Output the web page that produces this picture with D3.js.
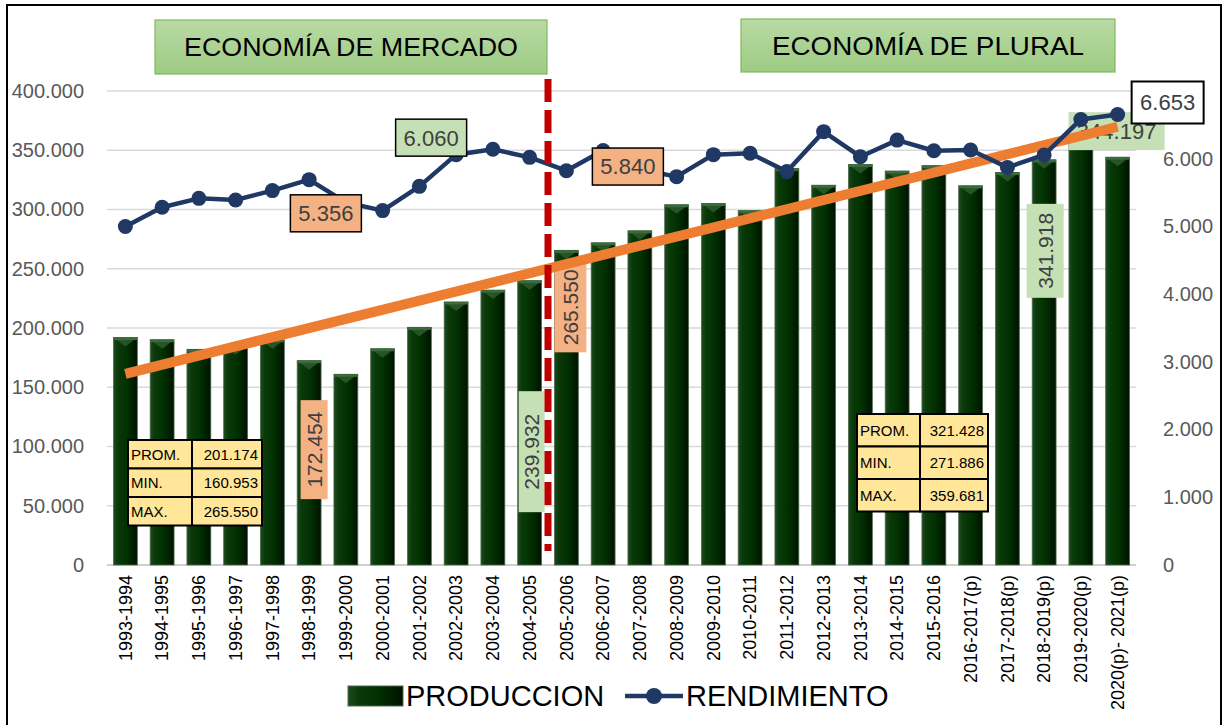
<!DOCTYPE html>
<html>
<head>
<meta charset="utf-8">
<script src="https://cdn.jsdelivr.net/npm/d3@7/dist/d3.min.js"></script>
<style>
  body { margin: 0; background: #fff; }
  svg { display: block; }
</style>
</head>
<body>
<div id="chart"></div>
<script>
// Chart data
const categories = [
    '1993-1994', '1994-1995', '1995-1996', '1996-1997', '1997-1998', '1998-1999', '1999-2000',
    '2000-2001', '2001-2002', '2002-2003', '2003-2004', '2004-2005', '2005-2006', '2006-2007',
    '2007-2008', '2008-2009', '2009-2010', '2010-2011', '2011-2012', '2012-2013', '2013-2014',
    '2014-2015', '2015-2016', '2016-2017(p)', '2017-2018(p)', '2018-2019(p)', '2019-2020(p)',
    '2020(p)- 2021(p)'
];

// PRODUCCION (left axis)
const produccion = [
    192000, 190100, 182000, 185000, 190000, 172454, 160953, 182500, 200600, 222000, 232000,
    239932, 265550, 271886, 282000, 304000, 305000, 299000, 334500, 320500, 338000, 332500,
    337000, 320000, 331200, 341918, 359681, 344197
];

// RENDIMIENTO (right axis)
const rendimiento = [
    5000, 5283, 5415, 5391, 5529, 5691, 5356, 5234, 5592, 6060, 6140, 6020, 5823, 6120,
    5840, 5735, 6060, 6080, 5810, 6400, 6030, 6275, 6118, 6128, 5872, 6055, 6580, 6653
];

const leftTicks = [0, 50000, 100000, 150000, 200000, 250000, 300000, 350000, 400000];
const rightTicks = [0, 1000, 2000, 3000, 4000, 5000, 6000];

const statsMercado = [['PROM.', 201174], ['MIN.', 160953], ['MAX.', 265550]];
const statsPlural = [['PROM.', 321428], ['MIN.', 271886], ['MAX.', 359681]];

const periodTitles = ['ECONOMÍA DE MERCADO', 'ECONOMÍA DE PLURAL'];

// Label call-outs (index into the series + placement relative to the point)
const rendLabels = [
    { i: 6, fill: '#F4B183', dx: -20, dy: 11 },
    { i: 9, fill: '#C5E0B4', dx: -25, dy: -17 },
    { i: 14, fill: '#F4B183', dx: -12, dy: -3 },
    { i: 27, fill: '#FFFFFF', dx: 50, dy: -12, w: 72, h: 42, sw: 2 }
];
const prodLabelsVertical = [
    { i: 5, fill: '#F4B183', dx: 5, dy: 89, w: 27, h: 99 },
    { i: 11, fill: '#C5E0B4', dx: 2, dy: 171, w: 26, h: 121 },
    { i: 12, fill: '#F4B183', dx: 4, dy: 57, w: 32, h: 90 },
    { i: 25, fill: '#C5E0B4', dx: 1, dy: 91, w: 37, h: 94 }
];

const locale = d3.formatLocale({ decimal: ',', thousands: '.', grouping: [3], currency: ['', ''] });
const fmt = locale.format(',.0f');

const W = 1225, H = 725;
const plot = { left: 107, right: 1136, top: 91, bottom: 565 };
const sans = '"Liberation Sans", Arial, sans-serif';

const svg = d3.select('#chart').append('svg')
    .attr('width', W)
    .attr('height', H);

const defs = svg.append('defs');

const barGrad = defs.append('linearGradient').attr('id', 'barGrad')
    .attr('x1', '0%').attr('x2', '100%').attr('y1', '0%').attr('y2', '0%');
barGrad.append('stop').attr('offset', '0%').attr('stop-color', '#1e4a1e');
barGrad.append('stop').attr('offset', '18%').attr('stop-color', '#0a3a0a');
barGrad.append('stop').attr('offset', '55%').attr('stop-color', '#013001');
barGrad.append('stop').attr('offset', '100%').attr('stop-color', '#001300');

const titleGrad = defs.append('linearGradient').attr('id', 'titleGrad')
    .attr('x1', '0%').attr('x2', '0%').attr('y1', '0%').attr('y2', '100%');
titleGrad.append('stop').attr('offset', '0%').attr('stop-color', '#B9DAA5');
titleGrad.append('stop').attr('offset', '100%').attr('stop-color', '#9DCB83');

// Outer border
svg.append('rect')
    .attr('x', 7).attr('y', 5)
    .attr('width', 1214).attr('height', 740)
    .attr('fill', 'none')
    .attr('stroke', '#000')
    .attr('stroke-width', 2);

// Scales
const x = d3.scaleBand()
    .domain(categories)
    .range([plot.left, plot.right])
    .paddingInner(0.35)
    .paddingOuter(0.175);

const yL = d3.scaleLinear().domain([0, 400000]).range([plot.bottom, plot.top]);
const yR = d3.scaleLinear().domain([0, 7000]).range([plot.bottom, plot.top]);
const cx = d => x(d) + x.bandwidth() / 2;

// Gridlines
svg.append('g')
    .selectAll('line')
    .data(leftTicks)
    .enter()
    .append('line')
    .attr('x1', plot.left).attr('x2', plot.right)
    .attr('y1', d => yL(d)).attr('y2', d => yL(d))
    .attr('stroke', d => d === 0 ? '#BFBFBF' : '#D9D9D9')
    .attr('stroke-width', 1.5);

// Left axis
const axisL = svg.append('g')
    .attr('transform', `translate(${plot.left - 20},0)`)
    .call(d3.axisLeft(yL).tickValues(leftTicks).tickSize(0).tickFormat(fmt));
axisL.select('.domain').remove();
axisL.selectAll('text')
    .attr('fill', '#595959')
    .style('font-family', sans)
    .style('font-size', '20px');

// Right axis
const axisR = svg.append('g')
    .attr('transform', `translate(${plot.right + 24},0)`)
    .call(d3.axisRight(yR).tickValues(rightTicks).tickSize(0).tickFormat(fmt));
axisR.select('.domain').remove();
axisR.selectAll('text')
    .attr('fill', '#595959')
    .style('font-family', sans)
    .style('font-size', '20px');

// X axis labels
const axisX = svg.append('g')
    .attr('transform', `translate(0,${plot.bottom + 10})`)
    .call(d3.axisBottom(x).tickSize(0));
axisX.select('.domain').remove();
axisX.selectAll('text')
    .attr('transform', 'rotate(-90)')
    .attr('x', 0).attr('y', 0)
    .attr('dx', 0).attr('dy', '0.35em')
    .style('text-anchor', 'end')
    .attr('fill', '#000')
    .style('font-family', sans)
    .style('font-size', '18px');

// Bars
const bars = svg.append('g');
bars.selectAll('.bar')
    .data(produccion)
    .enter()
    .append('rect')
    .attr('class', 'bar')
    .attr('x', (d, i) => x(categories[i]))
    .attr('y', d => yL(d))
    .attr('width', x.bandwidth())
    .attr('height', d => plot.bottom - yL(d))
    .attr('fill', 'url(#barGrad)')
    .attr('stroke', '#4f6b4f')
    .attr('stroke-width', 0.8);

// bevel on top of the bars
bars.selectAll('.bevel')
    .data(produccion)
    .enter()
    .append('path')
    .attr('class', 'bevel')
    .attr('d', (d, i) => {
        const x0 = x(categories[i]), w = x.bandwidth(), t = yL(d);
        return `M${x0},${t}L${x0 + w},${t}L${x0 + w / 2},${t + 9}Z`;
    })
    .attr('fill', '#2d5a2d')
    .attr('opacity', 0.85);

bars.selectAll('.cap')
    .data(produccion)
    .enter()
    .append('rect')
    .attr('class', 'cap')
    .attr('x', (d, i) => x(categories[i]))
    .attr('y', d => yL(d))
    .attr('width', x.bandwidth())
    .attr('height', 2.5)
    .attr('fill', '#3b6a3b');

// Vertical production labels
prodLabelsVertical.forEach(l => {
    const px = cx(categories[l.i]) + l.dx;
    const py = yL(produccion[l.i]) + l.dy;
    const g = svg.append('g').attr('transform', `translate(${px},${py})`);
    g.append('rect')
        .attr('x', -l.w / 2).attr('y', -l.h / 2)
        .attr('width', l.w).attr('height', l.h)
        .attr('fill', l.fill);
    g.append('text')
        .attr('transform', 'rotate(-90)')
        .attr('text-anchor', 'middle')
        .attr('dy', '0.36em')
        .attr('fill', '#404040')
        .style('font-family', sans)
        .style('font-size', '21px')
        .text(fmt(produccion[l.i]));
});

// Label for the last bar (sits under the lines)
{
    const i = 27;
    const px = cx(categories[i]) - 1, py = yL(produccion[i]) - 26;
    svg.append('rect')
        .attr('x', px - 48).attr('y', py - 19)
        .attr('width', 96).attr('height', 38)
        .attr('fill', '#C5E0B4');
    svg.append('text')
        .attr('x', px).attr('y', py)
        .attr('text-anchor', 'middle')
        .attr('dy', '0.36em')
        .attr('fill', '#404040')
        .style('font-family', sans)
        .style('font-size', '22px')
        .text(fmt(produccion[i]));
}

// Linear trend of production
const idx = d3.range(produccion.length);
const mx = d3.mean(idx), my = d3.mean(produccion);
const slope = d3.sum(idx, i => (i - mx) * (produccion[i] - my)) / d3.sum(idx, i => (i - mx) * (i - mx));
const intercept = my - slope * mx;
const trend = [0, produccion.length - 1].map(i => ({ i, v: intercept + slope * i }));

svg.append('path')
    .datum(trend)
    .attr('fill', 'none')
    .attr('stroke', '#ED7D31')
    .attr('stroke-width', 10)
    .attr('d', d3.line().x(d => cx(categories[d.i])).y(d => yL(d.v)));

// Rendimiento line
const rendLine = d3.line()
    .x((d, i) => cx(categories[i]))
    .y(d => yR(d));

svg.append('path')
    .datum(rendimiento)
    .attr('fill', 'none')
    .attr('stroke', '#1F3864')
    .attr('stroke-width', 4.5)
    .attr('stroke-linejoin', 'round')
    .attr('d', rendLine);

svg.append('g')
    .selectAll('circle')
    .data(rendimiento)
    .enter()
    .append('circle')
    .attr('cx', (d, i) => cx(categories[i]))
    .attr('cy', d => yR(d))
    .attr('r', 7.5)
    .attr('fill', '#1F3864');

// Period divider
const divX = x(categories[12]) - (x.step() - x.bandwidth()) / 2;
svg.append('line')
    .attr('x1', divX).attr('x2', divX)
    .attr('y1', 79).attr('y2', 551)
    .attr('stroke', '#C00000')
    .attr('stroke-width', 7)
    .attr('stroke-dasharray', '23,8');

// Rendimiento call-outs
rendLabels.forEach(l => {
    const w = l.w || 71, h = l.h || 37;
    const px = cx(categories[l.i]) + l.dx;
    const py = yR(rendimiento[l.i]) + l.dy;
    svg.append('rect')
        .attr('x', px - w / 2).attr('y', py - h / 2)
        .attr('width', w).attr('height', h)
        .attr('fill', l.fill)
        .attr('stroke', '#000')
        .attr('stroke-width', l.sw || 1.5);
    svg.append('text')
        .attr('x', px).attr('y', py)
        .attr('text-anchor', 'middle')
        .attr('dy', '0.36em')
        .attr('fill', '#404040')
        .style('font-family', sans)
        .style('font-size', '22px')
        .text(fmt(rendimiento[l.i]));
});

// Stats tables
function drawTable(rows, left, top, colW, rowH) {
    const g = svg.append('g').attr('transform', `translate(${left},${top})`);
    rows.forEach((r, k) => {
        g.append('rect')
            .attr('x', 0).attr('y', k * rowH)
            .attr('width', colW[0]).attr('height', rowH)
            .attr('fill', '#FFE699').attr('stroke', '#000').attr('stroke-width', 2);
        g.append('rect')
            .attr('x', colW[0]).attr('y', k * rowH)
            .attr('width', colW[1]).attr('height', rowH)
            .attr('fill', '#FFE699').attr('stroke', '#000').attr('stroke-width', 2);
        g.append('text')
            .attr('x', 3).attr('y', k * rowH + rowH / 2)
            .attr('dy', '0.36em')
            .style('font-family', sans)
            .style('font-size', '15px')
            .attr('fill', '#000')
            .text(r[0]);
        g.append('text')
            .attr('x', colW[0] + colW[1] - 4).attr('y', k * rowH + rowH / 2)
            .attr('dy', '0.36em')
            .attr('text-anchor', 'end')
            .style('font-family', sans)
            .style('font-size', '15px')
            .attr('fill', '#000')
            .text(fmt(r[1]));
    });
}
drawTable(statsMercado, 128, 440, [64, 70], 28.5);
drawTable(statsPlural, 857, 414, [63, 68], 32.5);

// Period title boxes
const titleBoxes = [
    { x: 155, y: 20, w: 392, h: 54, tl: 334 },
    { x: 741, y: 19, w: 374, h: 53, tl: 312 }
];
titleBoxes.forEach((b, k) => {
    svg.append('rect')
        .attr('x', b.x).attr('y', b.y)
        .attr('width', b.w).attr('height', b.h)
        .attr('fill', 'url(#titleGrad)')
        .attr('stroke', '#7FBA5E')
        .attr('stroke-width', 1.2);
    svg.append('text')
        .attr('x', b.x + b.w / 2).attr('y', b.y + b.h / 2)
        .attr('dy', '0.36em')
        .attr('text-anchor', 'middle')
        .attr('textLength', b.tl)
        .attr('lengthAdjust', 'spacingAndGlyphs')
        .style('font-family', sans)
        .style('font-size', '26px')
        .attr('fill', '#000')
        .text(periodTitles[k]);
});

// Legend
const legend = svg.append('g').attr('transform', 'translate(0,696)');
legend.append('rect')
    .attr('x', 348).attr('y', -10)
    .attr('width', 55).attr('height', 20)
    .attr('fill', 'url(#barGrad)')
    .attr('stroke', '#4f6b4f');
legend.append('text')
    .attr('x', 406).attr('y', 0).attr('dy', '0.36em')
    .style('font-family', sans)
    .style('font-size', '29px')
    .attr('fill', '#000')
    .text('PRODUCCION');
legend.append('line')
    .attr('x1', 625).attr('x2', 683)
    .attr('y1', 0).attr('y2', 0)
    .attr('stroke', '#1F3864').attr('stroke-width', 4.5);
legend.append('circle')
    .attr('cx', 654).attr('cy', 0).attr('r', 8)
    .attr('fill', '#1F3864');
legend.append('text')
    .attr('x', 686).attr('y', 0).attr('dy', '0.36em')
    .style('font-family', sans)
    .style('font-size', '29px')
    .attr('fill', '#000')
    .text('RENDIMIENTO');
</script>
</body>
</html>
